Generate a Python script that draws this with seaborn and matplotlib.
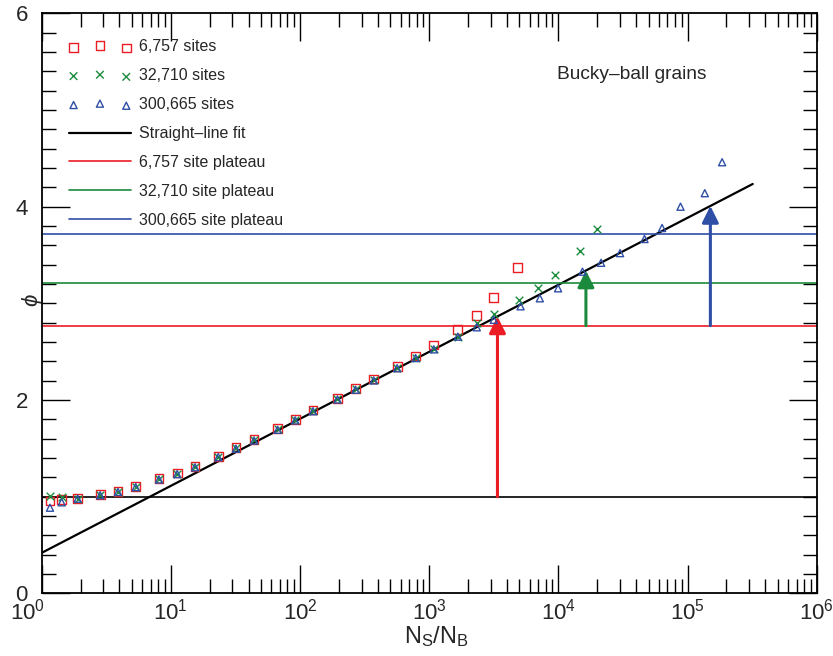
import numpy as np
import matplotlib
matplotlib.use('Agg')
import matplotlib.pyplot as plt
import matplotlib.transforms as mtransforms
import seaborn as sns

# N_S/N_B values
x_common = [1.16, 1.43, 1.90, 2.84, 3.90, 5.35, 8.09, 11.2, 15.4, 23.3, 31.9, 44.1,
            67.1, 91.8, 126, 195, 269, 372, 565, 785, 1086, 1668, 2337, 3162]

x_small = x_common + [4800]
phi_small = [0.957, 0.97, 0.985, 1.022, 1.058, 1.11, 1.19, 1.245, 1.315, 1.42, 1.507, 1.592,
             1.703, 1.80, 1.897, 2.02, 2.12, 2.218, 2.35, 2.456, 2.57, 2.732, 2.873, 3.063, 3.37]

x_mid = x_common + [4960, 6900, 9500, 14650, 19950]
phi_mid = [1.005, 0.998, 0.98, 1.019, 1.053, 1.105, 1.185, 1.24, 1.311, 1.415, 1.502, 1.587,
           1.698, 1.794, 1.891, 2.012, 2.112, 2.208, 2.335, 2.44, 2.525, 2.656, 2.794, 2.89,
           3.04, 3.16, 3.29, 3.545, 3.77]

x_big = x_common + [5100, 7190, 9960, 15380, 21430, 30060, 46450, 63560, 88300, 136100, 185300]
phi_big = [0.887, 0.943, 0.98, 1.016, 1.05, 1.10, 1.18, 1.235, 1.305, 1.41, 1.497, 1.582,
           1.693, 1.79, 1.885, 2.007, 2.107, 2.203, 2.33, 2.435, 2.525, 2.656, 2.753, 2.83,
           2.97, 3.053, 3.156, 3.328, 3.42, 3.52, 3.666, 3.78, 4.0, 4.14, 4.46]

site_counts = [6757, 32710, 300665]
site_labels = ['6,757', '32,710', '300,665']
plateaus = [2.77, 3.21, 3.72]
arrow_base = [1.0, 2.77, 2.77]
fit_intercept = 0.42
fit_slope = 0.693
fit_range = [1.0, 3.2e5]

red = '#ec1c24'
green = '#1b8a3c'
blue = '#2f4fa6'
colors = [red, green, blue]

sns.set_style('ticks')
plt.rcParams['font.family'] = ['Liberation Sans', 'DejaVu Sans']
plt.rcParams['mathtext.fontset'] = 'custom'
plt.rcParams['mathtext.rm'] = 'Liberation Sans'
plt.rcParams['mathtext.it'] = 'Liberation Sans:italic'

fig = plt.figure(figsize=(8.33, 6.56), dpi=100)
ax = fig.add_axes([0.05, 0.0953, 0.9304, 0.8844])

sns.scatterplot(x=x_small, y=phi_small, marker='s', s=40, facecolors='none',
                edgecolors=red, linewidth=1.0, label='6,757 sites', ax=ax, zorder=3)
sns.scatterplot(x=x_mid, y=phi_mid, marker='x', s=30, color=green,
                linewidth=1.0, label='32,710 sites', ax=ax, zorder=4)
sns.scatterplot(x=x_big, y=phi_big, marker='^', s=26, facecolors='none',
                edgecolors=blue, linewidth=1.0, label='300,665 sites', ax=ax, zorder=5)

fit_x = np.array(fit_range)
fit_y = fit_intercept + fit_slope * np.log10(fit_x)
sns.lineplot(x=fit_x, y=fit_y, color='black', linewidth=1.6, label='Straight–line fit', ax=ax)

ax.axhline(1.0, color='black', linewidth=1.2)
for lab, p, c in zip(site_labels, plateaus, colors):
    ax.axhline(p, color=c, linewidth=1.2, label=lab + ' site plateau')

for n, base, c in zip(site_counts, arrow_base, colors):
    xa = n / 2
    top = fit_intercept + fit_slope * np.log10(xa)
    ax.annotate('', xy=(xa, top), xytext=(xa, base),
                arrowprops=dict(arrowstyle='-|>,head_length=1.0,head_width=0.5',
                                color=c, lw=2.2, shrinkA=0, shrinkB=0))

ax.text(0.665, 0.894, 'Bucky–ball grains', transform=ax.transAxes, fontsize=13.8,
        va='center', ha='left')

ax.set_xscale('log')
ax.set_xlim(1, 1e6)
ax.set_ylim(0, 6)
ax.set_yticks([0, 2, 4, 6])
ax.set_yticks(np.arange(0, 6.01, 0.2), minor=True)
ax.xaxis.set_minor_locator(matplotlib.ticker.LogLocator(base=10, subs=np.arange(2, 10), numticks=20))
ax.xaxis.set_minor_formatter(matplotlib.ticker.NullFormatter())

ax.tick_params(which='both', direction='in', top=True, right=True, width=1.0, color='black')
ax.tick_params(which='major', length=20, labelsize=16)
ax.tick_params(axis='x', which='major', pad=4)
ax.tick_params(axis='y', which='major', pad=10)
ax.tick_params(which='minor', length=10)
for sp in ax.spines.values():
    sp.set_linewidth(1.3)
    sp.set_color('black')

ax.set_xlabel(r'N$_\mathregular{S}$/N$_\mathregular{B}$', fontsize=17, labelpad=0)
ax.xaxis.set_label_coords(0.51, -0.052, transform=ax.transAxes)
ax.xaxis.label.set_va('top')
ax.set_ylabel(r'$\phi$', fontsize=16)
ax.yaxis.set_label_coords(0.004, 0.506)

ax.legend(loc='upper left', bbox_to_anchor=(0.035, 0.955), frameon=False, fontsize=11.5,
          scatterpoints=3, handlelength=3.9, handletextpad=0.5, labelspacing=0.87,
          borderpad=0, borderaxespad=0)

fig.canvas.draw()
for lbl in ax.get_xticklabels():
    if lbl.get_position()[0] == 1:
        lbl.set_transform(lbl.get_transform() +
                          mtransforms.ScaledTranslation(-14 / 100, 0, fig.dpi_scale_trans))

plt.savefig('out.png', dpi=100)
